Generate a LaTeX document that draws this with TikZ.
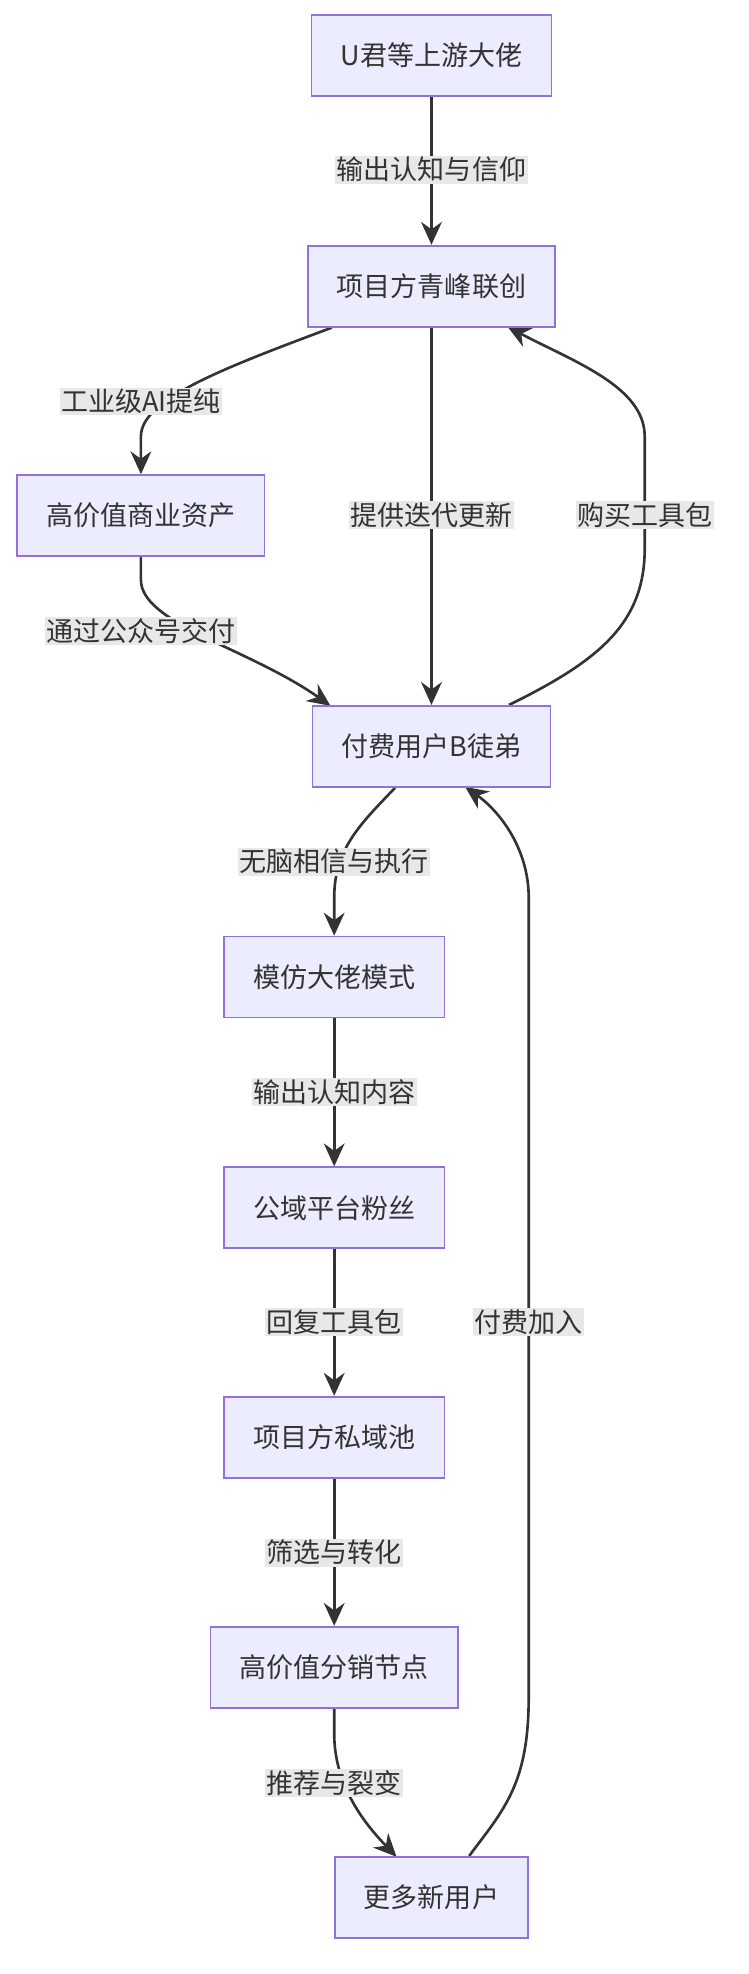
\documentclass[tikz,border=0pt]{standalone}
\usepackage{fontspec}
\setmainfont{Noto Sans CJK SC}
\usepackage{tikz}
\usetikzlibrary{arrows.meta}
\definecolor{boxfill}{HTML}{ECECFF}
\definecolor{boxline}{HTML}{9370DB}
\definecolor{edgeline}{HTML}{333333}
\definecolor{labelfill}{HTML}{E8E8E8}
\tikzstyle{box}=[fill=boxfill, draw=boxline, line width=1.2pt, minimum height=1.95cm, inner xsep=0.7cm, font=\fontsize{18.5}{22}\selectfont, text=edgeline]
\tikzstyle{label}=[fill=labelfill, inner sep=1pt, font=\fontsize{18.5}{22}\selectfont, text=edgeline]
\tikzstyle{flow}=[draw=edgeline, line width=1.8pt, -{Stealth[length=0.55cm, width=0.5cm]}]
\pgfdeclarelayer{nodelayer}
\pgfdeclarelayer{edgelayer}
\pgfsetlayers{edgelayer,nodelayer}

\begin{document}
\begin{tikzpicture}[x=0.03cm, y=-0.03cm]
	\useasboundingbox (0,0) rectangle (600,1583);
	\begin{pgfonlayer}{nodelayer}
		\node [style=box] (up) at (346, 44.5) {U君等上游大佬};
		\node [style=box] (proj) at (346, 229.5) {项目方青峰联创};
		\node [style=box] (asset) at (113, 413.5) {高价值商业资产};
		\node [style=box] (user) at (346, 598.5) {付费用户B徒弟};
		\node [style=box] (mimic) at (268, 783.5) {模仿大佬模式};
		\node [style=box] (fans) at (268, 968.5) {公域平台粉丝};
		\node [style=box] (pool) at (268, 1152.5) {项目方私域池};
		\node [style=box] (node) at (268, 1337) {高价值分销节点};
		\node [style=box] (new) at (346, 1521.5) {更多新用户};
		\node [style=label] (l1) at (346, 136) {输出认知与信仰};
		\node [style=label] (l2) at (113, 322) {工业级AI提纯};
		\node [style=label] (l3) at (346, 413) {提供迭代更新};
		\node [style=label] (l4) at (517, 413) {购买工具包};
		\node [style=label] (l5) at (113, 506) {通过公众号交付};
		\node [style=label] (l6) at (268, 691) {无脑相信与执行};
		\node [style=label] (l7) at (268, 876) {输出认知内容};
		\node [style=label] (l8) at (268, 1060) {回复工具包};
		\node [style=label] (l9) at (268, 1245) {筛选与转化};
		\node [style=label] (l10) at (268, 1430) {推荐与裂变};
		\node [style=label] (l11) at (424, 1060) {付费加入};
	\end{pgfonlayer}
	\begin{pgfonlayer}{edgelayer}
		\draw [style=flow] (up) -- (proj);
		\draw [style=flow] (proj.south) -- (user.north);
		\draw [style=flow] (proj.south west) ++(20,0) .. controls (180,295) and (113,320) .. (113,350) -- (asset.north);
		\draw [style=flow] (asset.south) -- (113,465) .. controls (113,500) and (200,520) .. (265,566);
		\draw [style=flow] (user.north east) ++(-34,0) .. controls (480,530) and (517,500) .. (517,440) -- (517,350) .. controls (517,310) and (460,290) .. (407,262);
		\draw [style=flow] (user.south west) ++(67,0) .. controls (290,660) and (268,680) .. (268,720) -- (mimic.north);
		\draw [style=flow] (mimic) -- (fans);
		\draw [style=flow] (fans) -- (pool);
		\draw [style=flow] (pool) -- (node);
		\draw [style=flow] (node.south) -- (268,1390) .. controls (268,1430) and (290,1460) .. (318,1489);
		\draw [style=flow] (new.north east) ++(-48,0) .. controls (405,1450) and (424,1430) .. (424,1360) -- (424,720) .. controls (424,680) and (400,650) .. (373,631);
	\end{pgfonlayer}
\end{tikzpicture}
\end{document}
